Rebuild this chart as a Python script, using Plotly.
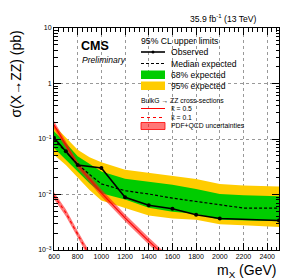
import plotly.graph_objects as go

# ---------------- data ----------------
mass_exp = [600, 700, 800, 900, 1000, 1200, 1400, 1600, 1800, 2000, 2200, 2500]
exp_median = [0.098, 0.058, 0.035, 0.023, 0.0155, 0.0117, 0.0102, 0.0086, 0.0075, 0.0064, 0.0057, 0.0057]
exp_68_lo = [0.069, 0.042, 0.026, 0.016, 0.0105, 0.0081, 0.0058, 0.0049, 0.0045, 0.0035, 0.0034, 0.0033]
exp_68_hi = [0.138, 0.085, 0.049, 0.036, 0.026, 0.0193, 0.0168, 0.0150, 0.0125, 0.0102, 0.0097, 0.0093]
exp_95_lo = [0.052, 0.034, 0.020, 0.012, 0.0078, 0.0057, 0.0042, 0.0037, 0.0035, 0.0029, 0.0028, 0.0026]
exp_95_hi = [0.177, 0.107, 0.064, 0.047, 0.038, 0.028, 0.0245, 0.0215, 0.019, 0.0155, 0.0145, 0.014]

mass_obs = [600, 700, 800, 1000, 1200, 1400, 1600, 1800, 2000, 2500]
obs = [0.105, 0.060, 0.034, 0.030, 0.0089, 0.0064, 0.00555, 0.0043, 0.0037, 0.0034]

mass_k05 = [600, 800, 1000, 1200, 1400, 1600]
xs_k05 = [0.18, 0.034, 0.0107, 0.0038, 0.00145, 0.00058]
xs_k05_hi = [0.21, 0.0395, 0.0124, 0.0044, 0.00168, 0.00067]
xs_k05_lo = [0.155, 0.0293, 0.0092, 0.00328, 0.00125, 0.0005]

mass_k01 = [600, 700, 800, 900]
xs_k01 = [0.0095, 0.0047, 0.0019, 0.0008]
xs_k01_hi = [0.011, 0.00545, 0.0022, 0.00093]
xs_k01_lo = [0.0082, 0.00405, 0.00164, 0.00069]

y_tickvals = [0.001, 0.01, 0.1, 1, 10]
y_ticktext = ["10<sup>\u22123</sup>", "10<sup>\u22122</sup>", "10<sup>\u22121</sup>", "1", "10"]
x_tickvals = [600, 800, 1000, 1200, 1400, 1600, 1800, 2000, 2200, 2400]
x_ticktext = [str(v) for v in x_tickvals]

YELLOW = "#FFCC00"
GREEN = "#00CC00"
RED = "#FF0000"
RED_BAND = "rgba(255,20,20,0.58)"
FONT = "Liberation Sans, Arial, Helvetica, sans-serif"


def band(x, lo, hi, color):
    return go.Scatter(x=list(x) + list(x)[::-1], y=list(hi) + list(lo)[::-1], mode="lines",
                      line=dict(width=0, color=color), fill="toself", fillcolor=color,
                      showlegend=False, hoverinfo="skip")


fig = go.Figure()
fig.add_trace(band(mass_exp, exp_95_lo, exp_95_hi, YELLOW))
fig.add_trace(band(mass_exp, exp_68_lo, exp_68_hi, GREEN))
fig.add_trace(band(mass_k05, xs_k05_lo, xs_k05_hi, RED_BAND))
fig.add_trace(band(mass_k01, xs_k01_lo, xs_k01_hi, RED_BAND))
fig.add_trace(go.Scatter(x=mass_k05, y=xs_k05, mode="lines", line=dict(color=RED, width=1.1), showlegend=False))
fig.add_trace(go.Scatter(x=mass_k01, y=xs_k01, mode="lines", line=dict(color=RED, width=1.1, dash="dot"),
                         showlegend=False))
# median expected
fig.add_trace(go.Scatter(x=mass_exp, y=exp_median, mode="lines",
                         line=dict(color="black", width=1.2, dash="3px,2px"), showlegend=False))
# observed
fig.add_trace(go.Scatter(x=mass_obs, y=obs, mode="lines+markers",
                         line=dict(color="black", width=1.6),
                         marker=dict(color="black", size=4, symbol="circle"), showlegend=False))

# ---------------- layout helpers (pixel -> paper) ----------------
L, R, T, B = 46, 271, 20, 242
W, H = 288, 279


def px(x):
    return (x - L) / (R - L)


def py(y):
    return (B - y) / (B - T)


ann = []
shapes = []


def text(x, y, s, size, xanchor="left", **kw):
    ann.append(dict(x=px(x), y=py(y), xref="paper", yref="paper", text=s, showarrow=False,
                    xanchor=xanchor, yanchor="middle", font=dict(family=FONT, size=size, color="black"), **kw))


# header texts
text(250, 11, "35.9 fb<sup>-1</sup> (13 TeV)", 8.6, xanchor="right")
text(71, 38, "<b>CMS</b>", 12.5)
text(72, 52, "<i>Preliminary</i>", 8.6)

# legend
text(131, 33, "95% CL upper limits", 8.7)
shapes.append(dict(type="line", xref="paper", yref="paper", x0=px(133), x1=px(157), y0=py(44), y1=py(44),
                   line=dict(color="black", width=1.6)))
shapes.append(dict(type="circle", xref="paper", yref="paper", x0=px(143.5), x1=px(146.5), y0=py(42.5), y1=py(45.5),
                   fillcolor="black", line=dict(color="black", width=0)))
text(161, 44, "Observed", 8.6)
shapes.append(dict(type="line", xref="paper", yref="paper", x0=px(133), x1=px(157), y0=py(55.5), y1=py(55.5),
                   line=dict(color="black", width=1.2, dash="3px,2px")))
text(161, 55.5, "Median expected", 8.6)
shapes.append(dict(type="rect", xref="paper", yref="paper", x0=px(133), x1=px(157), y0=py(71), y1=py(62.5),
                   fillcolor=GREEN, line=dict(width=0)))
text(161, 66.5, "68% expected", 8.6)
shapes.append(dict(type="rect", xref="paper", yref="paper", x0=px(133), x1=px(157), y0=py(82), y1=py(73.5),
                   fillcolor=YELLOW, line=dict(width=0)))
text(161, 78, "95% expected", 8.6)

text(131, 92, "BulkG \u2192 ZZ cross-sections", 6.8)
shapes.append(dict(type="line", xref="paper", yref="paper", x0=px(133), x1=px(157), y0=py(100.5), y1=py(100.5),
                   line=dict(color=RED, width=1)))
text(161, 100.5, "k\u0303 = 0.5", 6.8)
shapes.append(dict(type="line", xref="paper", yref="paper", x0=px(133), x1=px(157), y0=py(109.5), y1=py(109.5),
                   line=dict(color=RED, width=1, dash="dot")))
text(161, 109.5, "k\u0303 = 0.1", 6.8)
shapes.append(dict(type="rect", xref="paper", yref="paper", x0=px(133), x1=px(157), y0=py(121.5), y1=py(114.5),
                   fillcolor=RED_BAND, line=dict(color=RED, width=0.8)))
text(161, 118, "PDF+QCD uncertainties", 6.8)

# axis titles
text(270, 263, "m<sub>X</sub> (GeV)", 14, xanchor="right")
ann.append(dict(x=px(7.5), y=py(66), xref="paper", yref="paper", text="\u03c3(X\u2192ZZ) (pb)", showarrow=False,
                textangle=-90, xanchor="center", yanchor="middle",
                font=dict(family=FONT, size=14, color="black")))

y_minor = [k * 10 ** e for e in range(-3, 1) for k in range(2, 10)]

fig.update_layout(
    width=W, height=H,
    margin=dict(l=L, r=W - R, t=T, b=H - B, pad=0),
    paper_bgcolor="white", plot_bgcolor="white",
    showlegend=False,
    font=dict(family=FONT, size=7, color="black"),
    annotations=ann, shapes=shapes,
    xaxis=dict(range=[600, 2500], tickvals=x_tickvals, ticktext=x_ticktext,
               ticks="inside", ticklen=7, tickwidth=1, tickcolor="black",
               showline=True, linecolor="black", linewidth=1, mirror="allticks",
               showgrid=True, gridcolor="#999999", gridwidth=0.8, griddash="dot",
               zeroline=False, tickfont=dict(size=7, family=FONT),
               minor=dict(ticks="inside", ticklen=3.5, dtick=40, tick0=600, tickcolor="black", showgrid=False)),
    yaxis=dict(type="log", range=[-3, 1], tickvals=y_tickvals, ticktext=y_ticktext,
               ticks="inside", ticklen=7, tickwidth=1, tickcolor="black",
               showline=True, linecolor="black", linewidth=1, mirror="allticks",
               showgrid=True, gridcolor="#999999", gridwidth=0.8, griddash="dot",
               zeroline=False, tickfont=dict(size=7, family=FONT),
               minor=dict(ticks="inside", ticklen=3.5, tickvals=y_minor, tickcolor="black", showgrid=False)),
)

fig.write_html("out.html")
